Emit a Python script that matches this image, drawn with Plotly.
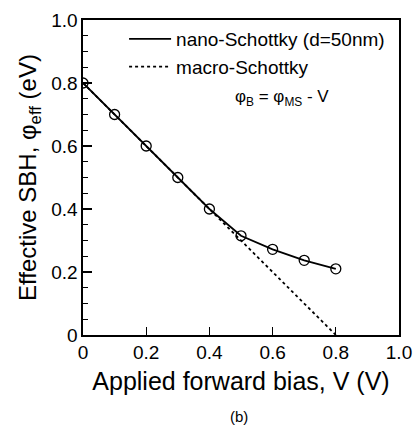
import plotly.graph_objects as go

bias = [0.0, 0.1, 0.2, 0.3, 0.4, 0.5, 0.6, 0.7, 0.8]
nano_sbh = [0.80, 0.70, 0.60, 0.50, 0.40, 0.315, 0.272, 0.237, 0.21]
macro_bias = [0.0, 0.8]
macro_sbh = [0.80, 0.0]
x_ticks = [0, 0.2, 0.4, 0.6, 0.8, 1.0]
x_tick_labels = ["0", "0.2", "0.4", "0.6", "0.8", "1.0"]
y_ticks = [0, 0.2, 0.4, 0.6, 0.8, 1.0]
y_tick_labels = ["0", "0.2", "0.4", "0.6", "0.8", "1.0"]

FONT = "Liberation Sans, Arial, Helvetica, sans-serif"
W, H = 413, 429
PX0, PY0, PX1, PY1 = 83, 20, 399, 335  # plot area in window pixels
L, R, T, B = PX0, W - PX1, PY0, H - PY1
PW, PH = W - L - R, H - T - B

fig = go.Figure()
fig.add_trace(go.Scatter(
    x=macro_bias, y=macro_sbh, mode="lines",
    line=dict(color="black", width=1.8, dash="dot"),
    name="macro-Schottky", legendgroup="b", legendrank=2,
))
fig.add_trace(go.Scatter(
    x=bias, y=nano_sbh, mode="lines",
    line=dict(color="black", width=1.8),
    name="nano-Schottky (d=50nm)", legendgroup="a", legendrank=1,
))
fig.add_trace(go.Scatter(
    x=bias, y=nano_sbh, mode="markers",
    marker=dict(symbol="circle-open", size=10, color="black", line=dict(width=1.3)),
    showlegend=False, hoverinfo="skip",
))

fig.update_layout(
    width=W, height=H,
    margin=dict(l=L, r=R, t=T, b=B, autoexpand=False),
    paper_bgcolor="white", plot_bgcolor="white",
    font=dict(family=FONT, color="black"),
    showlegend=True,
    legend=dict(
        x=0.13, y=1.0, xanchor="left", yanchor="top",
        bgcolor="rgba(0,0,0,0)", traceorder="normal",
        tracegroupgap=6, font=dict(size=19, family=FONT),
        itemwidth=42,
    ),
    xaxis=dict(
        range=[0, 1.0], tickvals=x_ticks, ticktext=x_tick_labels,
        ticks="inside", ticklen=8, tickwidth=1.3, tickcolor="black",
        showline=True, linecolor="black", linewidth=1.6, mirror=True,
        showgrid=False, zeroline=False, automargin=False,
        tickfont=dict(size=19, family=FONT),
        title=dict(text="Applied forward bias, V (V)", font=dict(size=25, family=FONT), standoff=10),
    ),
    yaxis=dict(
        range=[0, 1.0], tickvals=y_ticks, ticktext=y_tick_labels,
        ticks="inside", ticklen=9, tickwidth=1.3, tickcolor="black",
        minor=dict(dtick=0.05, ticks="inside", ticklen=5, tickwidth=1.2, tickcolor="black", showgrid=False),
        showline=True, linecolor="black", linewidth=1.6, mirror=True,
        showgrid=False, zeroline=False, automargin=False,
        tickfont=dict(size=19, family=FONT),
        title=dict(text="Effective SBH, φ<sub>eff</sub> (eV)", font=dict(size=24, family=FONT), standoff=8),
    ),
    annotations=[
        dict(text="φ<sub>B</sub> = φ<sub>MS</sub> - V", x=(282 - PX0) / PW, y=(PY1 - 98) / PH,
             xref="paper", yref="paper", showarrow=False, font=dict(size=17, family=FONT),
             xanchor="center", yanchor="middle"),
        dict(text="(b)", x=(239 - PX0) / PW, y=-(416 - PY1) / PH, xref="paper", yref="paper",
             showarrow=False, font=dict(size=15, family=FONT), xanchor="center", yanchor="middle"),
    ],
)

fig.write_html(
    "out.html",
    config={"displayModeBar": False, "staticPlot": True},
    post_script="document.body.style.margin='0';document.body.style.overflow='hidden';",
)
